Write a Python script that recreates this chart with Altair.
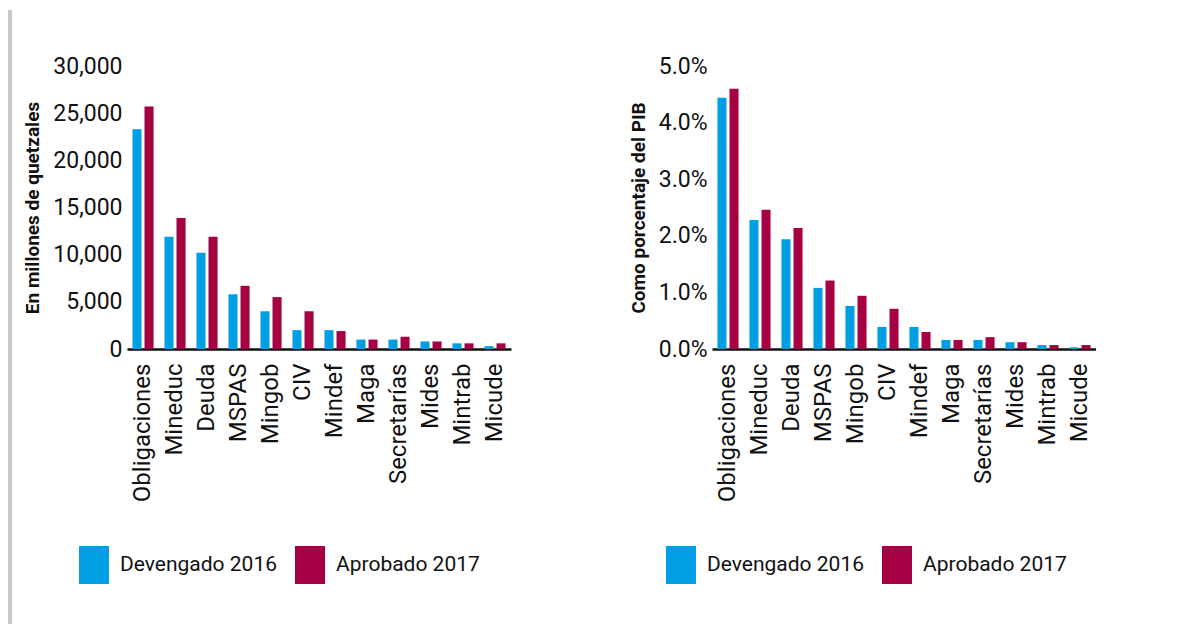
import altair as alt
import pandas as pd

categories = ["Obligaciones", "Mineduc", "Deuda", "MSPAS", "Mingob", "CIV",
              "Mindef", "Maga", "Secretarías", "Mides", "Mintrab", "Micude"]
series = ["Devengado 2016", "Aprobado 2017"]
colors = ["#009FE3", "#A50044"]

# En millones de quetzales
dev_2016_q = [23300, 11900, 10200, 5800, 4000, 2000, 2000, 1000, 1000, 800, 600, 300]
apr_2017_q = [25700, 13900, 11900, 6700, 5500, 4000, 1900, 1000, 1300, 800, 600, 600]

# Como porcentaje del PIB (en %)
dev_2016_pib = [4.44, 2.28, 1.94, 1.08, 0.76, 0.39, 0.39, 0.16, 0.16, 0.12, 0.07, 0.03]
apr_2017_pib = [4.60, 2.46, 2.14, 1.21, 0.94, 0.71, 0.30, 0.16, 0.21, 0.12, 0.07, 0.07]

q_ticks = [0, 5000, 10000, 15000, 20000, 25000, 30000]
pib_ticks = [0, 0.01, 0.02, 0.03, 0.04, 0.05]


def long_df(a, b, scale=1.0):
    rows = []
    for c, v in zip(categories, a):
        rows.append({"cat": c, "serie": series[0], "val": v * scale})
    for c, v in zip(categories, b):
        rows.append({"cat": c, "serie": series[1], "val": v * scale})
    return pd.DataFrame(rows)


df_q = long_df(dev_2016_q, apr_2017_q)
df_p = long_df(dev_2016_pib, apr_2017_pib, 0.01)

FONT = "Roboto"
W, H = 384, 283
SYMBOL = "M-0.79,-1H0.79V1H-0.79Z"


def panel(df, dmax, ticks, fmt, title, legend_x):
    return alt.Chart(df).mark_bar().encode(
        x=alt.X("cat:N", sort=categories, title=None,
                scale=alt.Scale(paddingInner=0.34, paddingOuter=0.17),
                axis=alt.Axis(labelAngle=-90, labelFontSize=24, labelFont=FONT,
                              labelColor="#111111", labelPadding=14, ticks=False,
                              domainColor="#111111", domainWidth=2.5, labelAlign="right",
                              labelBaseline="middle")),
        xOffset=alt.XOffset("serie:N", sort=series,
                            scale=alt.Scale(paddingInner=0.25)),
        y=alt.Y("val:Q", scale=alt.Scale(domain=[0, dmax], nice=False),
                axis=alt.Axis(title=title, values=ticks, format=fmt, grid=False,
                              ticks=False, domain=False, labelFontSize=23,
                              labelFont=FONT, labelColor="#111111", labelPadding=5,
                              titleFont=FONT, titleFontSize=19, titleFontWeight="bold",
                              titleColor="#111111", titlePadding=10)),
        color=alt.Color("serie:N", sort=series,
                        scale=alt.Scale(domain=series, range=colors),
                        legend=alt.Legend(title=None, orient="none", direction="horizontal",
                                          columns=2, legendX=legend_x, legendY=480,
                                          symbolType=SYMBOL, symbolSize=1444,
                                          symbolStrokeWidth=0, labelFont=FONT,
                                          labelFontSize=21, labelColor="#111111",
                                          labelOffset=7, columnPadding=13, padding=0)),
    ).properties(width=W, height=H)


left_bars = panel(df_q, 30000, q_ticks, ",.0f", "En millones de quetzales", -52)
border = alt.Chart(df_q).mark_rule(color="#c8c8c8", strokeWidth=4).encode(
    x=alt.value(-117), y=alt.value(-56), y2=alt.value(558))
left = alt.layer(left_bars, border)

right = panel(df_p, 0.05, pib_ticks, ".1%", "Como porcentaje del PIB", -50)

chart = alt.hconcat(left, right, spacing=118).resolve_scale(
    color="independent").configure(padding=0).configure_view(stroke=None)

chart.save("out.html", embed_options={"renderer": "svg", "actions": False})
